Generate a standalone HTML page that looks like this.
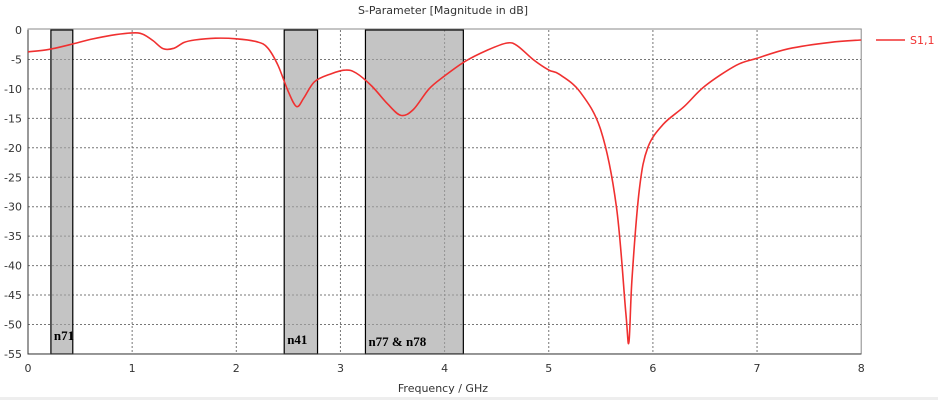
<!DOCTYPE html>
<html><head><meta charset="utf-8"><style>
html,body{margin:0;padding:0;background:#fff;width:938px;height:400px;overflow:hidden}
svg text{font-family:"DejaVu Sans","Liberation Sans",sans-serif;font-size:11px;fill:#333}
</style></head><body>
<svg id="chart" width="938" height="400" xmlns="http://www.w3.org/2000/svg">
<text x="443" y="14" text-anchor="middle">S-Parameter [Magnitude in dB]</text>
<g id="grid"></g><g id="bands"></g><g id="axes"></g><g id="series"></g>
<line x1="876" y1="40" x2="905" y2="40" stroke="#f03030" stroke-width="1.5"/>
<text x="910" y="44" style="fill:#f03030">S1,1</text>
<text x="488" y="392" text-anchor="end">Frequency / GHz</text>
<rect x="0" y="397" width="938" height="3" fill="#eee"/>
</svg>
<script>
const xTicks=[0,1,2,3,4,5,6,7,8];
const yTicks=[0,-5,-10,-15,-20,-25,-30,-35,-40,-45,-50,-55];
const bandNames=["n71","n41","n77 & n78"];
const bandStart=[0.22,2.46,3.24];
const bandEnd=[0.43,2.78,4.18];
const freq=[0,0.2,0.4,0.6,0.8,1.0,1.1,1.2,1.3,1.4,1.5,1.6,1.8,2.0,2.2,2.3,2.4,2.5,2.58,2.65,2.75,2.9,3.05,3.15,3.3,3.45,3.58,3.7,3.85,4.0,4.2,4.4,4.6,4.7,4.85,5.0,5.1,5.3,5.5,5.65,5.74,5.77,5.8,5.87,5.95,6.1,6.3,6.5,6.8,7.0,7.3,7.7,8.0];
const s11=[-3.7,-3.3,-2.5,-1.6,-0.9,-0.5,-0.7,-1.8,-3.2,-3.1,-2.1,-1.7,-1.4,-1.5,-2.0,-3.0,-6,-10.5,-13,-11.5,-8.8,-7.5,-6.8,-7.3,-9.5,-12.5,-14.5,-13.5,-10,-7.8,-5.3,-3.5,-2.2,-2.7,-5,-6.8,-7.5,-10.5,-17,-30,-48,-53,-42,-27,-20,-16,-13,-9.5,-6,-4.8,-3.2,-2.1,-1.7];
const X=f=>28+f*104.15, Y=d=>30-d*5.89;
const NS="http://www.w3.org/2000/svg";
function mk(tag,parent,attrs){const e=document.createElementNS(NS,tag);for(const k in attrs)e.setAttribute(k,attrs[k]);document.getElementById(parent).appendChild(e);return e;}
xTicks.forEach(t=>{
 if(t>0&&t<8){const l=mk('line','grid',{x1:X(t),x2:X(t),y1:Y(0),y2:Y(-55),stroke:'#777','stroke-dasharray':'2,2'});
 
 }
 const tx=mk('text','axes',{x:X(t),y:372,'text-anchor':'middle'});tx.textContent=t;
 
 
});
yTicks.forEach(t=>{
 if(t<0&&t>-55){const l=mk('line','grid',{x1:X(0),x2:X(8),y1:Y(t),y2:Y(t),stroke:'#777','stroke-dasharray':'2,2'});
 
 }
 const tx=mk('text','axes',{x:22,y:Y(t)+4,'text-anchor':'end'});tx.textContent=t;
 
 
});
const labelY=[340,344,346];
bandNames.forEach((n,i)=>{
 const r=mk('rect','bands',{x:X(bandStart[i]),y:Y(0),width:X(bandEnd[i])-X(bandStart[i]),height:Y(-55)-Y(0),fill:'rgba(165,165,165,0.65)',stroke:'#000','stroke-width':1.2});
 
 
 const t=mk('text','bands',{x:X(bandStart[i])+3,y:labelY[i],style:'font-family:"Liberation Serif",serif;font-weight:bold;font-size:13px;fill:#000'});t.textContent=n;
 
 
});
const b=mk('rect','axes',{x:X(0),y:Y(0)-1,width:X(8)-X(0),height:Y(-55)-Y(0)+1,fill:'none',stroke:'#888'});


const ax=mk('path','axes',{d:`M${X(0)} ${Y(0)}V${Y(-55)}H${X(8)}`,fill:'none',stroke:'#333'});


// smooth Catmull-Rom path
const pts=freq.map((f,i)=>[X(f),Y(s11[i])]);
let d='M'+pts[0][0].toFixed(1)+' '+pts[0][1].toFixed(1);
for(let i=0;i<pts.length-1;i++){
 const p0=pts[Math.max(0,i-1)],p1=pts[i],p2=pts[i+1],p3=pts[Math.min(pts.length-1,i+2)];
 const k=1/6;
 const c1=[p1[0]+(p2[0]-p0[0])*k,p1[1]+(p2[1]-p0[1])*k];
 const c2=[p2[0]-(p3[0]-p1[0])*k,p2[1]-(p3[1]-p1[1])*k];
 d+=`C${c1[0].toFixed(1)} ${c1[1].toFixed(1)} ${c2[0].toFixed(1)} ${c2[1].toFixed(1)} ${p2[0].toFixed(1)} ${p2[1].toFixed(1)}`;
}
const p=mk('path','series',{d:d,fill:'none',stroke:'#f03030','stroke-width':1.6,'stroke-linejoin':'round'});


</script>
</body></html>
